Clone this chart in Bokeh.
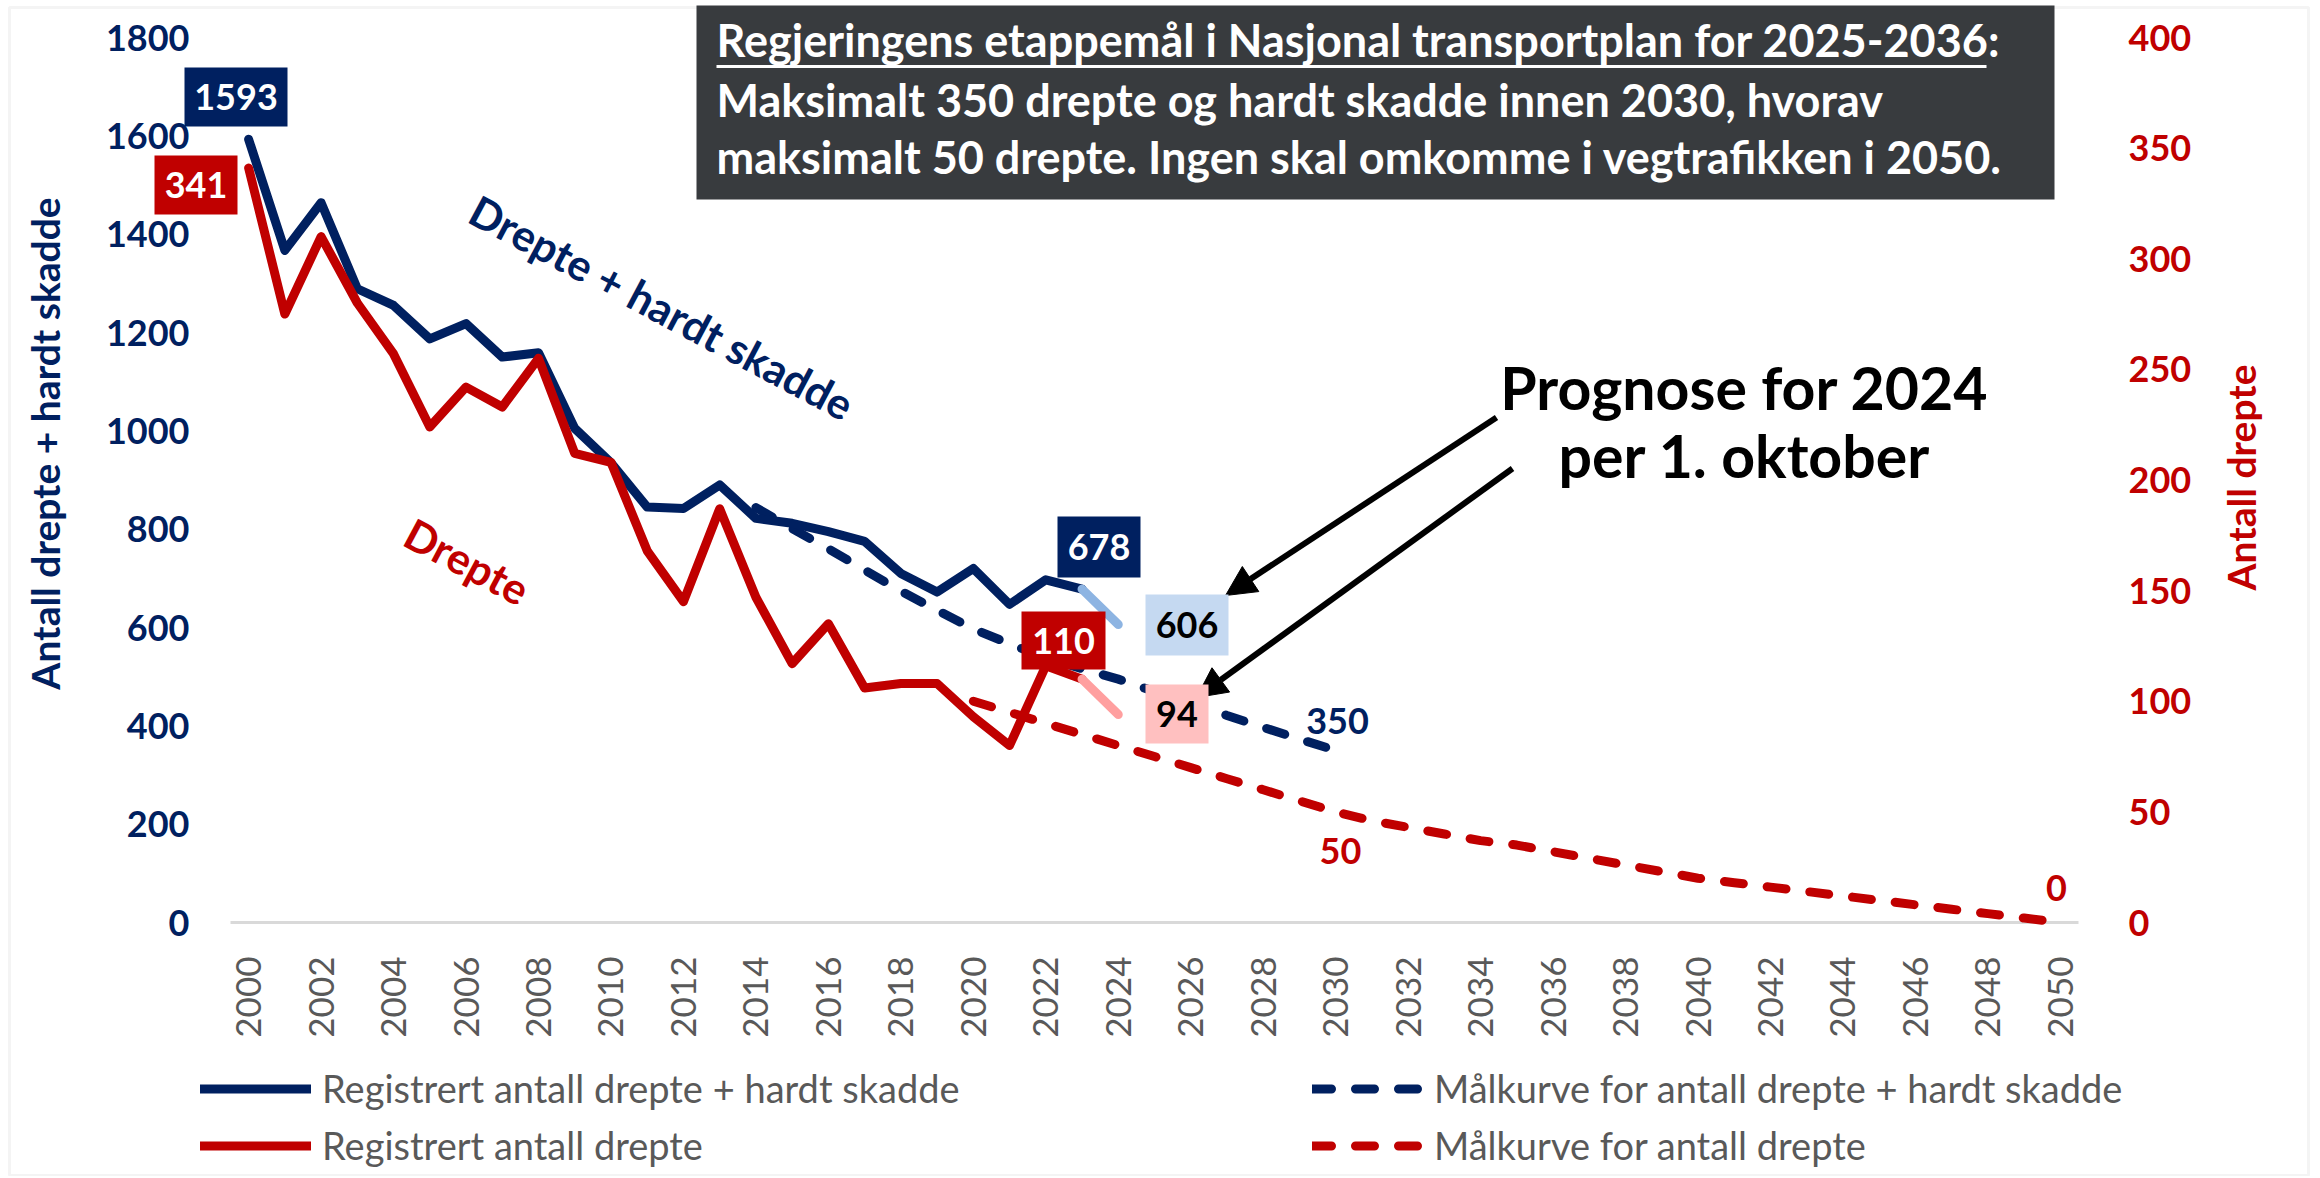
import math
from bokeh.plotting import figure
from bokeh.models import (Range1d, LinearAxis, FixedTicker, Label, BoxAnnotation,
                          Arrow, NormalHead, Legend, LegendItem)
from bokeh.embed import file_html
from bokeh.resources import INLINE

# ---------------- data ----------------
years_actual = list(range(2000, 2024))
ksi_actual = [1593, 1367, 1464, 1289, 1255, 1187, 1218, 1150, 1159, 1005, 935, 845,
              842, 890, 822, 812, 795, 775, 710, 672, 720, 647, 697, 678]
killed_actual = [341, 275, 310, 280, 257, 224, 242, 233, 255, 212, 208, 168,
                 145, 187, 147, 117, 135, 106, 108, 108, 93, 80, 116, 110]
years_prog = [2023, 2024]
ksi_prog = [678, 606]
killed_prog = [110, 94]
years_target_ksi = list(range(2014, 2031))
ksi_target = [844, 801, 760, 717, 674, 635, 597, 567, 538, 516, 495, 470, 446, 421,
              397, 373, 350]
years_target_killed = list(range(2020, 2051))
killed_target = [100, 95, 90, 85, 80, 75, 70, 65, 60, 55, 50,
                 46, 43, 40, 37, 35, 32, 29, 26, 23, 20,
                 18, 16, 14, 12, 10, 8, 6, 4, 2, 0]
x_ticks = list(range(2000, 2051, 2))
left_ticks = list(range(0, 1801, 200))
right_ticks = list(range(0, 401, 50))

legend_labels = ["Registrert antall drepte + hardt skadde",
                 "Registrert antall drepte",
                 "Målkurve for antall drepte + hardt skadde",
                 "Målkurve for antall drepte"]
title_lines = ["Regjeringens etappemål i Nasjonal transportplan for 2025-2036:",
               "Maksimalt 350 drepte og hardt skadde innen 2030, hvorav",
               "maksimalt 50 drepte. Ingen skal omkomme i vegtrafikken i 2050."]

NAVY = "#002060"
RED = "#C00000"
FONT = "Lato"

# ------------- geometry helpers (page pixels -> data coordinates) -------------
AX_L, AX_R, AX_B, AX_H = 230, 2078, 922, 885      # plotting area of the chart
XMIN, XMAX, YMAX = 1999.5, 2050.5, 1800
PX_PER_YEAR = (AX_R - AX_L) / (XMAX - XMIN)
W, H = 2316, 1176                                  # canvas (frame covers it all)


def rx(px):
    return XMIN + (px - AX_L) / PX_PER_YEAR


def ry(py):
    return (AX_B - py) * YMAX / AX_H


p = figure(frame_width=W, frame_height=H,
           x_range=Range1d(rx(0), rx(W)), y_range=Range1d(ry(H), ry(0)),
           min_border_left=0, min_border_right=0, min_border_top=0, min_border_bottom=0,
           output_backend="svg", toolbar_location=None)
p.extra_y_ranges = {"right": Range1d(ry(H) / 4.5, ry(0) / 4.5)}
p.xgrid.visible = False
p.ygrid.visible = False
p.outline_line_color = None
p.background_fill_color = "white"
p.border_fill_color = "white"

# x axis (labels pulled up into the canvas, below the zero line)
xa = p.xaxis[0]
xa.ticker = FixedTicker(ticks=x_ticks)
xa.major_label_orientation = math.pi / 2
xa.axis_line_color = None
xa.major_tick_line_color = None
xa.minor_tick_line_color = None
xa.major_label_text_font = FONT
xa.major_label_text_font_size = "35px"
xa.major_label_text_color = "#595959"
xa.major_label_standoff = -(H - 950)

# left axis: labels right-aligned at x=193
ya = p.yaxis[0]
ya.ticker = FixedTicker(ticks=left_ticks)
ya.axis_line_color = None
ya.major_tick_line_color = None
ya.minor_tick_line_color = None
ya.major_label_text_font = FONT
ya.major_label_text_font_style = "bold"
ya.major_label_text_font_size = "36px"
ya.major_label_text_color = NAVY
ya.major_label_standoff = -195

# right axis: labels start at x=2122
ra = LinearAxis(y_range_name="right", ticker=FixedTicker(ticks=right_ticks))
ra.axis_line_color = None
ra.major_tick_line_color = None
ra.minor_tick_line_color = None
ra.major_label_text_font = FONT
ra.major_label_text_font_style = "bold"
ra.major_label_text_font_size = "36px"
ra.major_label_text_color = RED
ra.major_label_standoff = -(W - 2122)
p.add_layout(ra, "right")

# outer border
p.add_layout(BoxAnnotation(left=rx(9), right=rx(2308), top=ry(7), bottom=ry(1175),
                           fill_alpha=0, line_color="#D9D9D9", line_width=3))

# category axis base line
p.segment(x0=[XMIN], y0=[0], x1=[XMAX], y1=[0], line_color="#D9D9D9", line_width=3)

# ---------------- lines ----------------
LW = 9
r_ksi_t = p.line(years_target_ksi, ksi_target, line_color=NAVY, line_width=LW,
                 line_dash="19 24", line_cap="round")
r_kil_t = p.line(years_target_killed, killed_target, y_range_name="right",
                 line_color=RED, line_width=LW, line_dash="19 24", line_cap="round")
r_ksi = p.line(years_actual, ksi_actual, line_color=NAVY, line_width=LW,
               line_join="round", line_cap="round")
p.line(years_prog, ksi_prog, line_color="#8DB4E2", line_width=LW, line_cap="round")
r_kil = p.line(years_actual, killed_actual, y_range_name="right", line_color=RED,
               line_width=LW, line_join="round", line_cap="round")
p.line(years_prog, killed_prog, y_range_name="right", line_color="#FF9F9F",
       line_width=LW, line_cap="round")

legend = Legend(items=[LegendItem(label=legend_labels[0], renderers=[r_ksi]),
                       LegendItem(label=legend_labels[1], renderers=[r_kil]),
                       LegendItem(label=legend_labels[2], renderers=[r_ksi_t]),
                       LegendItem(label=legend_labels[3], renderers=[r_kil_t])],
                orientation="vertical", nrows=2, ncols=2,
                location=(200, H - 1168.5),
                glyph_width=111, glyph_height=47, label_height=47, label_width=980,
                label_standoff=11, spacing=10, padding=0, margin=0,
                border_line_color=None, background_fill_alpha=0,
                label_text_font=FONT, label_text_font_size="38px",
                label_text_color="#595959")
p.add_layout(legend, "center")

# ---------------- annotations ----------------
def mid(baseline, size):
    """vertical centre of a text line whose baseline is given"""
    return baseline - 0.387 * size


# title box
p.add_layout(BoxAnnotation(left=rx(696), right=rx(2054), top=ry(5), bottom=ry(199),
                           fill_color="#383B3E", fill_alpha=1, line_color=None))
for txt, base in zip(title_lines, [57, 117, 174]):
    p.add_layout(Label(x=rx(716), y=ry(mid(base, 45)), text=txt, text_align="left",
                       text_baseline="middle", text_color="white",
                       text_font=FONT, text_font_style="bold", text_font_size="45px"))
p.add_layout(BoxAnnotation(left=rx(716), right=rx(1986), top=ry(64.5), bottom=ry(67.5),
                           fill_color="white", fill_alpha=1, line_color=None))

# axis titles
p.add_layout(Label(x=rx(44), y=ry(443), text="Antall drepte + hardt skadde",
                   angle=math.pi / 2, text_align="center", text_baseline="middle",
                   text_color=NAVY, text_font=FONT, text_font_style="bold",
                   text_font_size="39px"))
p.add_layout(Label(x=rx(2240), y=ry(477), text="Antall drepte",
                   angle=math.pi / 2, text_align="center", text_baseline="middle",
                   text_color=RED, text_font=FONT, text_font_style="bold",
                   text_font_size="39px"))

# rotated series names (baseline start points shifted to the text centre line)
deg = 28
ang = -math.radians(deg)
up = (math.sin(math.radians(deg)), -math.cos(math.radians(deg)))
sh = 0.387 * 43
for txt, (bx, by), col in [("Drepte + hardt skadde", (465, 221), NAVY),
                           ("Drepte", (400, 544), RED)]:
    p.add_layout(Label(x=rx(bx + up[0] * sh), y=ry(by + up[1] * sh), text=txt,
                       angle=ang, text_align="left", text_baseline="middle",
                       text_color=col, text_font=FONT, text_font_style="bold",
                       text_font_size="43px"))

# prognosis text + arrows
for txt, base in [("Prognose for 2024", 410), ("per 1. oktober", 478)]:
    p.add_layout(Label(x=rx(1744), y=ry(mid(base, 59)), text=txt, text_align="center",
                       text_baseline="middle", text_color="black", text_font=FONT,
                       text_font_style="bold", text_font_size="59px"))
for (x0, y0, x1, y1) in [(1496, 417, 1225, 595), (1512, 468, 1196, 697)]:
    p.add_layout(Arrow(end=NormalHead(size=30, fill_color="black", line_color="black"),
                       x_start=rx(x0), y_start=ry(y0), x_end=rx(x1), y_end=ry(y1),
                       line_color="black", line_width=6))

# value boxes
boxes = [("1593", (184, 67, 287, 126), NAVY, "white"),
         ("341", (154, 155, 237, 214), RED, "white"),
         ("678", (1057, 516, 1140, 577), NAVY, "white"),
         ("110", (1021, 611, 1105, 669), RED, "white"),
         ("606", (1145, 594, 1228, 655), "#C5D9F1", "black"),
         ("94", (1145, 684, 1208, 743), "#FFC0C0", "black")]
for txt, (l, t, r, b), fc, tc in boxes:
    p.add_layout(BoxAnnotation(left=rx(l), right=rx(r), top=ry(t), bottom=ry(b),
                               fill_color=fc, fill_alpha=1, line_color=None))
    p.add_layout(Label(x=rx((l + r) / 2), y=ry((t + b) / 2), text=txt,
                       text_align="center", text_baseline="middle", text_color=tc,
                       text_font=FONT, text_font_style="bold", text_font_size="36px"))

for txt, (cx, cy), col in [("350", (1337, 720), NAVY), ("50", (1340, 850), RED),
                           ("0", (2056, 887), RED)]:
    p.add_layout(Label(x=rx(cx), y=ry(cy), text=txt, text_align="center",
                       text_baseline="middle", text_color=col, text_font=FONT,
                       text_font_style="bold", text_font_size="36px"))

open("out.html", "w").write(file_html(p, INLINE))
